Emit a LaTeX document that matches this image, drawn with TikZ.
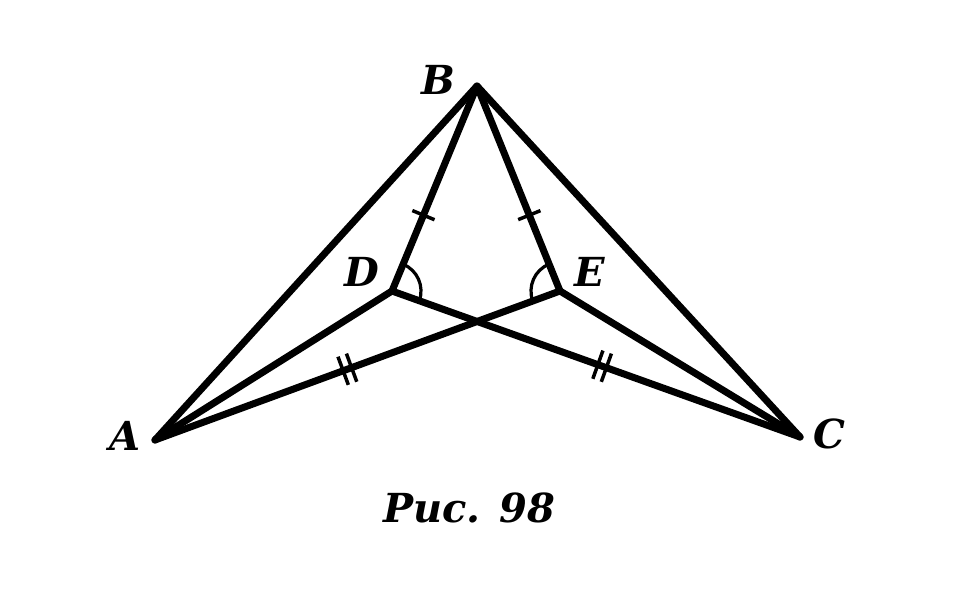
\documentclass[tikz,border=0pt]{standalone}
\usepackage{fontspec}
\setmainfont{DejaVu Serif}
\usetikzlibrary{calc,angles}
\begin{document}
\begin{tikzpicture}[x=1pt,y=-1pt,
  seg/.style={line width=7pt,line cap=round,line join=round},
  tk/.style={line width=3.5pt},
  lbl/.style={font=\fontsize{40}{42}\selectfont\bfseries\itshape,inner sep=0pt},
  arcmark/.style={draw,line width=3.2pt,angle radius=29pt}]
\useasboundingbox (0,0) rectangle (962,602);
\coordinate (A) at (155,440);
\coordinate (B) at (477,86);
\coordinate (C) at (800,437);
\coordinate (D) at (392,291);
\coordinate (E) at (560,291);
\draw[seg] (A) -- (B) -- (C);
\draw[seg] (B) -- (D) -- (C);
\draw[seg] (B) -- (E) -- (A);
\draw[seg] (A) -- (D);
\draw[seg] (C) -- (E);
% single ticks
\coordinate (t1) at ($(B)!0.63!(D)$);
\coordinate (t2) at ($(B)!0.63!(E)$);
\draw[tk] ($(t1)!12pt!90:(D)$) -- ($(t1)!12pt!-90:(D)$);
\draw[tk] ($(t2)!12pt!90:(E)$) -- ($(t2)!12pt!-90:(E)$);
% double ticks
\coordinate (u1) at ($(A)!0.475!(E)$);
\coordinate (u1a) at ($(u1)!4.5pt!(E)$);
\coordinate (u1b) at ($(u1)!-4.5pt!(E)$);
\draw[tk] ($(u1a)!15pt!90:(E)$) -- ($(u1a)!15pt!-90:(E)$);
\draw[tk] ($(u1b)!15pt!90:(E)$) -- ($(u1b)!15pt!-90:(E)$);
\coordinate (u2) at ($(D)!0.515!(C)$);
\coordinate (u2a) at ($(u2)!4.5pt!(C)$);
\coordinate (u2b) at ($(u2)!-4.5pt!(C)$);
\draw[tk] ($(u2a)!15pt!90:(C)$) -- ($(u2a)!15pt!-90:(C)$);
\draw[tk] ($(u2b)!15pt!90:(C)$) -- ($(u2b)!15pt!-90:(C)$);
% angle arcs
\pic[arcmark] {angle = C--D--B};
\pic[arcmark] {angle = B--E--A};
% labels
\node[lbl] (lA) at (125,436) {A};
\node[lbl] (lB) at (438,80) {B};
\node[lbl] (lC) at (829,434) {C};
\node[lbl] (lD) at (362,272) {D};
\node[lbl] (lE) at (590,272) {E};
\node[lbl] (cap) at (469,508) {Рис. 98};
\end{tikzpicture}
\end{document}
